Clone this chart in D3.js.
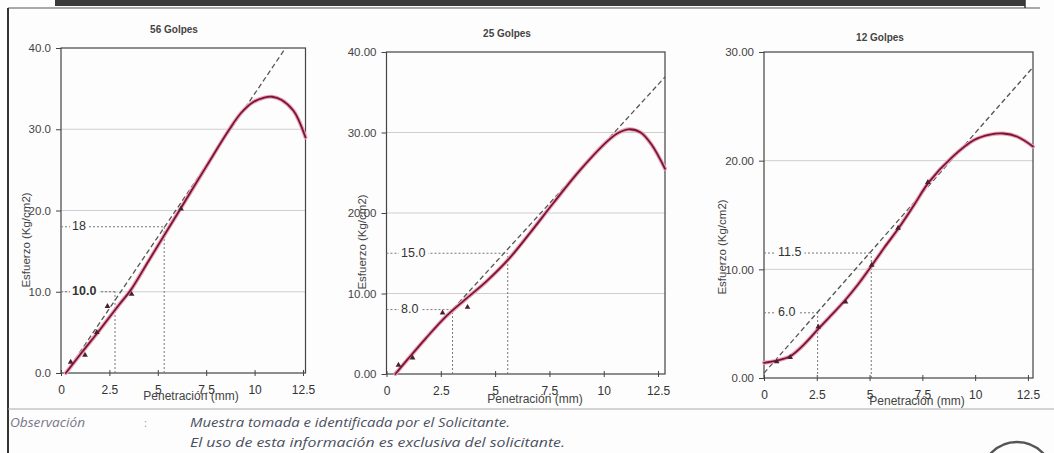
<!DOCTYPE html>
<html><head><meta charset="utf-8">
<script src="https://cdn.jsdelivr.net/npm/d3@7"></script>
<style>body{margin:0;background:#fff;} svg{display:block;}</style>
</head><body><svg id="c" width="1054" height="453"></svg>
<script>
// ---------- data ----------
const titles = ["56 Golpes", "25 Golpes", "12 Golpes"];
const xTitle = "Penetración (mm)";
const yTitle = "Esfuerzo (Kg/cm2)";
const xTicks = [0, 2.5, 5, 7.5, 10, 12.5];
const xTickLabels = ["0", "2.5", "5", "7.5", "10", "12.5"];

const yTicks1 = [0, 10, 20, 30, 40];
const yTickLabels1 = ["0.0", "10.0", "20.0", "30.0", "40.0"];
const yTicks2 = [0, 10, 20, 30, 40];
const yTickLabels2 = ["0.00", "10.00", "20.00", "30.00", "40.00"];
const yTicks3 = [0, 10, 20, 30];
const yTickLabels3 = ["0.00", "10.00", "20.00", "30.00"];

// fitted curves
const curve1X = [0.25, 1.0, 2.0, 3.0, 3.6, 4.5, 5.5, 6.5, 7.5, 8.7, 9.3, 9.9, 10.5, 10.9, 11.4, 12.0, 12.3, 12.63];
const curve1Y = [0, 2.3, 5.3, 8.4, 10.2, 13.7, 17.6, 21.5, 25.4, 30.0, 32.0, 33.3, 33.9, 34.0, 33.6, 32.3, 31.0, 29.0];
const curve2X = [0.41, 1.0, 1.8, 2.72, 3.6, 4.6, 5.6, 6.6, 7.7, 8.9, 10.2, 10.7, 11.15, 11.7, 12.2, 12.82];
const curve2Y = [0, 1.9, 4.4, 7.1, 9.2, 11.5, 14.2, 17.5, 21.3, 25.3, 29.0, 30.0, 30.4, 30.0, 28.5, 25.5];
const curve3X = [0, 0.6, 1.24, 1.9, 2.52, 3.2, 3.86, 4.45, 5.05, 5.7, 6.38, 7.1, 7.8, 8.9, 9.95, 10.7, 11.33, 12.0, 12.74];
const curve3Y = [1.4, 1.6, 2.0, 3.1, 4.4, 5.8, 7.2, 8.6, 10.2, 12.0, 13.8, 15.9, 18.0, 20.3, 21.9, 22.4, 22.5, 22.2, 21.3];

// corrected tangent (dashed)
const dash1X = [0.25, 11.6];  const dash1Y = [0, 40];
const dash2X = [0.33, 12.82]; const dash2Y = [0, 36.9];
const dash3X = [0, 12.74];    const dash3Y = [0.45, 28.6];

// measured points
const pts1X = [0.5, 1.24, 1.85, 2.4, 3.65, 6.2];
const pts1Y = [1.35, 2.2, 5.0, 8.2, 9.7, 20.2];
const pts2X = [0.55, 1.2, 2.58, 3.73];
const pts2Y = [1.1, 2.0, 7.6, 8.3];
const pts3X = [0.6, 1.24, 2.57, 3.86, 5.1, 6.35, 7.76];
const pts3Y = [1.5, 1.9, 4.7, 7.0, 10.4, 13.8, 18.0];

// CBR readings
const annot1Vals = [18, 10];   const annot1Labels = ["18", "10.0"];   const annot1Pens = [5.33, 2.79];
const annot2Vals = [15, 8];    const annot2Labels = ["15.0", "8.0"];  const annot2Pens = [5.58, 3.04];
const annot3Vals = [11.5, 6];  const annot3Labels = ["11.5", "6.0"];  const annot3Pens = [5.08, 2.54];

const obsLabel = "Observación";
const obsLines = ["Muestra tomada e identificada por el Solicitante.",
                  "El uso de esta información es exclusiva del solicitante."];

// ---------- layout ----------
const charts = [
  {title: titles[0], L: 61, R: 305.5, T: 48, B: 373, xMax: 12.63, yMax: 40, yTicks: yTicks1, yLabels: yTickLabels1,
   cx: curve1X, cy: curve1Y, dx: dash1X, dy: dash1Y, px: pts1X, py: pts1Y,
   av: annot1Vals, al: annot1Labels, ap: annot1Pens, titlePos: [174, 30], yT: [27, 240], xT: [191, 397], labX: 72, bold: [false, true]},
  {title: titles[1], L: 386.5, R: 665, T: 52, B: 374, xMax: 12.82, yMax: 40, yTicks: yTicks2, yLabels: yTickLabels2,
   cx: curve2X, cy: curve2Y, dx: dash2X, dy: dash2Y, px: pts2X, py: pts2Y,
   av: annot2Vals, al: annot2Labels, ap: annot2Pens, titlePos: [507, 34], yT: [363, 242], xT: [535, 400], labX: 401, bold: [false, false]},
  {title: titles[2], L: 764, R: 1033, T: 52, B: 378, xMax: 12.74, yMax: 30, yTicks: yTicks3, yLabels: yTickLabels3,
   cx: curve3X, cy: curve3Y, dx: dash3X, dy: dash3Y, px: pts3X, py: pts3Y,
   av: annot3Vals, al: annot3Labels, ap: annot3Pens, titlePos: [880, 38], yT: [723, 247], xT: [917, 402], labX: 778, bold: [false, false]}
];

const svg = d3.select("#c");
const FONT = "'Liberation Sans', Arial, sans-serif";

// document frame
svg.append("rect").attr("x", 0).attr("y", 0).attr("width", 1054).attr("height", 453).attr("fill", "#fdfdfd");
svg.append("rect").attr("x", 55).attr("y", 0).attr("width", 970).attr("height", 6).attr("fill", "#3a3a3a");
svg.append("line").attr("x1", 8).attr("x2", 1040).attr("y1", 8).attr("y2", 8).attr("stroke", "#555").attr("stroke-width", 1.2);
svg.append("line").attr("x1", 8).attr("x2", 8).attr("y1", 8).attr("y2", 453).attr("stroke", "#333").attr("stroke-width", 2);
svg.append("line").attr("x1", 1025).attr("x2", 1025).attr("y1", 0).attr("y2", 8).attr("stroke", "#333").attr("stroke-width", 1.5);
svg.append("line").attr("x1", 8).attr("x2", 1054).attr("y1", 409).attr("y2", 409).attr("stroke", "#aaa").attr("stroke-width", 1);

charts.forEach(c => {
  const x = d3.scaleLinear().domain([0, c.xMax]).range([c.L, c.R]);
  const y = d3.scaleLinear().domain([0, c.yMax]).range([c.B, c.T]);
  const g = svg.append("g");

  // gridlines
  g.selectAll(".grid").data(c.yTicks.filter(t => t > 0 && t < c.yMax)).enter().append("line")
    .attr("x1", c.L).attr("x2", c.R).attr("y1", d => y(d)).attr("y2", d => y(d))
    .attr("stroke", "#cfcfcf").attr("stroke-width", 1);

  // plot frame
  g.append("rect").attr("x", c.L).attr("y", c.T).attr("width", c.R - c.L).attr("height", c.B - c.T)
    .attr("fill", "none").attr("stroke", "#444").attr("stroke-width", 1.2);

  // y axis
  const ya = d3.axisLeft(y).tickValues(c.yTicks).tickFormat((d, i) => c.yLabels[i]).tickSize(5).tickPadding(5);
  const yg = g.append("g").attr("transform", `translate(${c.L},0)`).call(ya);
  yg.select(".domain").remove();
  yg.selectAll("line").attr("stroke", "#444");
  yg.selectAll("text").attr("font-family", FONT).attr("font-size", 11.5).attr("fill", "#444");

  // x axis
  const xa = d3.axisBottom(x).tickValues(xTicks).tickFormat((d, i) => xTickLabels[i]).tickSize(3).tickPadding(9);
  const xg = g.append("g").attr("transform", `translate(0,${c.B})`).call(xa);
  xg.select(".domain").remove();
  xg.selectAll("line").attr("stroke", "#444").attr("y1", -3);
  xg.selectAll("text").attr("font-family", FONT).attr("font-size", 12).attr("fill", "#333");

  // title
  g.append("text").attr("x", c.titlePos[0]).attr("y", c.titlePos[1]).attr("text-anchor", "middle")
    .attr("dominant-baseline", "middle").attr("font-family", FONT).attr("font-size", 10).attr("font-weight", "bold")
    .attr("fill", "#444").text(c.title);

  // axis titles
  g.append("text").attr("transform", `translate(${c.yT[0]},${c.yT[1]}) rotate(-90)`).attr("text-anchor", "middle")
    .attr("dominant-baseline", "middle").attr("font-family", FONT).attr("font-size", 11.5).attr("fill", "#444")
    .text(yTitle);
  g.append("text").attr("x", c.xT[0]).attr("y", c.xT[1]).attr("text-anchor", "middle")
    .attr("dominant-baseline", "middle").attr("font-family", FONT).attr("font-size", 12).attr("fill", "#444")
    .text(xTitle);

  // CBR dotted guides
  c.av.forEach((v, i) => {
    g.append("line").attr("x1", c.L).attr("x2", x(c.ap[i])).attr("y1", y(v)).attr("y2", y(v))
      .attr("stroke", "#777").attr("stroke-width", 1).attr("stroke-dasharray", "2,2");
    g.append("line").attr("x1", x(c.ap[i])).attr("x2", x(c.ap[i])).attr("y1", y(0)).attr("y2", y(v))
      .attr("stroke", "#777").attr("stroke-width", 1).attr("stroke-dasharray", "2,2");
  });

  // dashed tangent
  const lineGen = d3.line().x(d => x(d[0])).y(d => y(d[1]));
  g.append("path").datum(c.dx.map((d, i) => [d, c.dy[i]])).attr("d", lineGen)
    .attr("fill", "none").attr("stroke", "#555").attr("stroke-width", 1.3).attr("stroke-dasharray", "5,3");

  // curve
  const cData = c.cx.map((d, i) => [d, c.cy[i]]);
  const curveGen = d3.line().x(d => x(d[0])).y(d => y(d[1])).curve(d3.curveCatmullRom.alpha(0.5));
  g.append("path").datum(cData).attr("d", curveGen).attr("fill", "none")
    .attr("stroke", "#e9a3b5").attr("stroke-width", 4).attr("stroke-linecap", "round");
  g.append("path").datum(cData).attr("d", curveGen).attr("fill", "none")
    .attr("stroke", "#7a1436").attr("stroke-width", 1.8).attr("stroke-linecap", "round");

  // points
  const sym = d3.symbol().type(d3.symbolTriangle).size(14);
  g.selectAll(".pt").data(c.px.map((d, i) => [d, c.py[i]])).enter().append("path")
    .attr("d", sym).attr("transform", d => `translate(${x(d[0])},${y(d[1])})`).attr("fill", "#4a2030");

  // annotation labels
  c.av.forEach((v, i) => {
    const t = g.append("text").attr("x", c.labX).attr("y", y(v)).attr("dominant-baseline", "middle")
      .attr("font-family", FONT).attr("font-size", 12.5).attr("fill", "#333")
      .attr("font-weight", c.bold[i] ? "bold" : "normal").text(c.al[i]);
    const bb = t.node().getBBox();
    g.insert("rect", () => t.node()).attr("x", bb.x - 2).attr("y", bb.y).attr("width", bb.width + 5).attr("height", bb.height)
      .attr("fill", "#fdfdfd");
  });
});

// footer text
const ITAL = "'Open Sans', 'Noto Sans', sans-serif";
svg.append("text").attr("x", 10).attr("y", 424).attr("dominant-baseline", "middle").attr("font-family", ITAL)
  .attr("font-style", "italic").attr("font-size", 12).attr("fill", "#778").attr("textLength", 75)
  .attr("lengthAdjust", "spacingAndGlyphs").text(obsLabel);
svg.append("text").attr("x", 144).attr("y", 424).attr("dominant-baseline", "middle").attr("font-family", ITAL)
  .attr("font-size", 11).attr("fill", "#99a").text(":");
obsLines.forEach((s, i) => {
  svg.append("text").attr("x", 190).attr("y", 424 + i * 20).attr("dominant-baseline", "middle").attr("font-family", ITAL)
    .attr("font-style", "italic").attr("font-size", 12).attr("fill", "#4a5060").attr("textLength", i === 0 ? 320 : 375)
    .attr("lengthAdjust", "spacingAndGlyphs").text(s);
});

// stamp edge
svg.append("circle").attr("cx", 1017).attr("cy", 478).attr("r", 36).attr("fill", "none")
  .attr("stroke", "#555").attr("stroke-width", 2.5);
</script></body></html>
